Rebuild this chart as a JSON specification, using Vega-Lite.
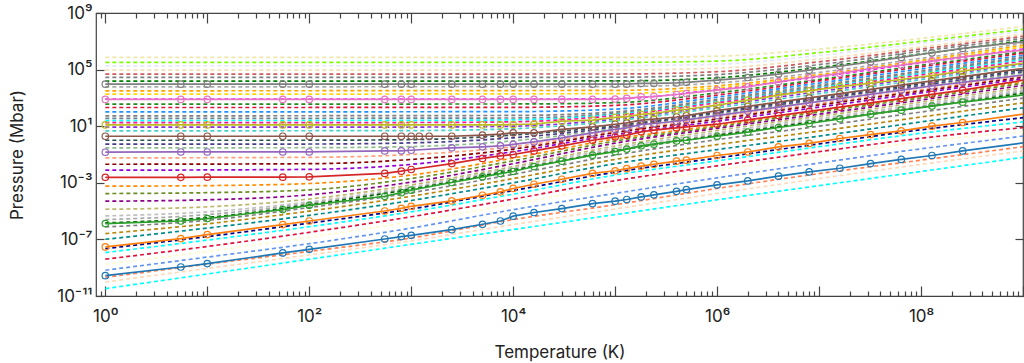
{
"$schema":"https://vega.github.io/schema/vega-lite/v6.json",
"width":927,"height":283,
"autosize":{"type":"none"},
"padding":{"left":96,"top":13,"right":1,"bottom":67},
"background":"white",
"config":{"view":{"stroke":"#444444","strokeWidth":1.2},
"axis":{"domain":false,"grid":false,"tickColor":"#444444","tickWidth":1.2,"labelFont":"Inter","titleFont":"Inter","labelFontSize":17,"titleFontSize":17,"titleFontWeight":"normal","labelColor":"#222222","titleColor":"#222222","labelFlush":false,"labelOverlap":false}},
"datasets":{
"dashed":[
{"s":"D1","T":1,"P":7.24e5},{"s":"D1","T":1e5,"P":7.24e5},{"s":"D1","T":1e6,"P":8.91e5},{"s":"D1","T":1e7,"P":2.82e6},{"s":"D1","T":1e8,"P":1.58e7},{"s":"D1","T":1e9,"P":1.12e8},
{"s":"D2","T":1,"P":3.24e5},{"s":"D2","T":1e5,"P":3.24e5},{"s":"D2","T":1e6,"P":3.98e5},{"s":"D2","T":1e7,"P":1.58e6},{"s":"D2","T":1e8,"P":1e7},{"s":"D2","T":1e9,"P":6.92e7},
{"s":"D3","T":1,"P":1.86e5},{"s":"D3","T":1e5,"P":1.91e5},{"s":"D3","T":1e6,"P":2.4e5},{"s":"D3","T":1e7,"P":1e6},{"s":"D3","T":1e8,"P":7.08e6},{"s":"D3","T":1e9,"P":5.01e7},
{"s":"D4","T":1,"P":9.12e4},{"s":"D4","T":1e5,"P":9.33e4},{"s":"D4","T":1e6,"P":1.26e5},{"s":"D4","T":1e7,"P":5.62e5},{"s":"D4","T":1e8,"P":3.98e6},{"s":"D4","T":1e9,"P":3.16e7},
{"s":"D5","T":1,"P":4.79e4},{"s":"D5","T":1e5,"P":4.9e4},{"s":"D5","T":1e6,"P":7.08e4},{"s":"D5","T":1e7,"P":3.55e5},{"s":"D5","T":1e8,"P":2.82e6},{"s":"D5","T":1e9,"P":2.24e7},
{"s":"D6","T":1,"P":2.82e4},{"s":"D6","T":1e5,"P":2.88e4},{"s":"D6","T":1e6,"P":4.47e4},{"s":"D6","T":1e7,"P":2.24e5},{"s":"D6","T":1e8,"P":2e6},{"s":"D6","T":1e9,"P":1.58e7},
{"s":"D7","T":1,"P":1.51e4},{"s":"D7","T":1e5,"P":1.58e4},{"s":"D7","T":1e6,"P":2.63e4},{"s":"D7","T":1e7,"P":1.41e5},{"s":"D7","T":1e8,"P":1.26e6},{"s":"D7","T":1e9,"P":1.12e7},
{"s":"D8","T":1,"P":6.03e3},{"s":"D8","T":1e5,"P":6.31e3},{"s":"D8","T":1e6,"P":1.12e4},{"s":"D8","T":1e7,"P":6.31e4},{"s":"D8","T":1e8,"P":6.31e5},{"s":"D8","T":1e9,"P":7.08e6},
{"s":"D9","T":1,"P":3.16e3},{"s":"D9","T":1e5,"P":3.39e3},{"s":"D9","T":1e6,"P":7.08e3},{"s":"D9","T":1e7,"P":4.47e4},{"s":"D9","T":1e8,"P":4.47e5},{"s":"D9","T":1e9,"P":5.25e6},
{"s":"D10","T":1,"P":1.82e3},{"s":"D10","T":1e5,"P":2e3},{"s":"D10","T":1e6,"P":5.01e3},{"s":"D10","T":1e7,"P":3.55e4},{"s":"D10","T":1e8,"P":3.55e5},{"s":"D10","T":1e9,"P":3.98e6},
{"s":"D11","T":1,"P":813},{"s":"D11","T":1e4,"P":813},{"s":"D11","T":1e5,"P":891},{"s":"D11","T":1e6,"P":3.8e3},{"s":"D11","T":1e7,"P":3.16e4},{"s":"D11","T":1e8,"P":3.02e5},{"s":"D11","T":1e9,"P":2.82e6},
{"s":"D12","T":1,"P":363},{"s":"D12","T":1e4,"P":372},{"s":"D12","T":1e5,"P":457},{"s":"D12","T":1e6,"P":2.24e3},{"s":"D12","T":1e7,"P":2e4},{"s":"D12","T":1e8,"P":2e5},{"s":"D12","T":1e9,"P":1.78e6},
{"s":"D13","T":1,"P":209},{"s":"D13","T":1e4,"P":214},{"s":"D13","T":1e5,"P":295},{"s":"D13","T":1e6,"P":1.58e3},{"s":"D13","T":1e7,"P":1.58e4},{"s":"D13","T":1e8,"P":1.58e5},{"s":"D13","T":1e9,"P":1.41e6},
{"s":"D14","T":1,"P":102},{"s":"D14","T":1e4,"P":107},{"s":"D14","T":1e5,"P":162},{"s":"D14","T":1e6,"P":1.12e3},{"s":"D14","T":1e7,"P":1.12e4},{"s":"D14","T":1e8,"P":1.12e5},{"s":"D14","T":1e9,"P":1e6},
{"s":"D15","T":1,"P":53.7},{"s":"D15","T":1e4,"P":57.5},{"s":"D15","T":1e5,"P":102},{"s":"D15","T":1e6,"P":794},{"s":"D15","T":1e7,"P":7.94e3},{"s":"D15","T":1e8,"P":7.94e4},{"s":"D15","T":1e9,"P":7.59e5},
{"s":"D16","T":1,"P":35.5},{"s":"D16","T":1e4,"P":38},{"s":"D16","T":1e5,"P":79.4},{"s":"D16","T":1e6,"P":631},{"s":"D16","T":1e7,"P":6.31e3},{"s":"D16","T":1e8,"P":6.31e4},{"s":"D16","T":1e9,"P":6.03e5},
{"s":"D17","T":1,"P":25.1},{"s":"D17","T":1e3,"P":25.7},{"s":"D17","T":1e4,"P":28.2},{"s":"D17","T":1e5,"P":66.1},{"s":"D17","T":1e6,"P":525},{"s":"D17","T":1e7,"P":5.25e3},{"s":"D17","T":1e8,"P":5.25e4},{"s":"D17","T":1e9,"P":5.01e5},
{"s":"D18","T":1,"P":17.8},{"s":"D18","T":1e3,"P":18.2},{"s":"D18","T":1e4,"P":20.4},{"s":"D18","T":1e5,"P":56.2},{"s":"D18","T":1e6,"P":447},{"s":"D18","T":1e7,"P":4.47e3},{"s":"D18","T":1e8,"P":4.17e4},{"s":"D18","T":1e9,"P":3.98e5},
{"s":"D19","T":1,"P":8.51},{"s":"D19","T":1e3,"P":8.71},{"s":"D19","T":1e4,"P":10},{"s":"D19","T":1e5,"P":31.6},{"s":"D19","T":1e6,"P":282},{"s":"D19","T":1e7,"P":2.82e3},{"s":"D19","T":1e8,"P":2.63e4},{"s":"D19","T":1e9,"P":2.51e5},
{"s":"D20","T":1,"P":4.68},{"s":"D20","T":1e3,"P":4.9},{"s":"D20","T":1e4,"P":6.61},{"s":"D20","T":1e5,"P":24},{"s":"D20","T":1e6,"P":200},{"s":"D20","T":1e7,"P":2e3},{"s":"D20","T":1e8,"P":1.91e4},{"s":"D20","T":1e9,"P":1.91e5},
{"s":"D21","T":1,"P":1.02},{"s":"D21","T":1e2,"P":1.02},{"s":"D21","T":1e3,"P":1.12},{"s":"D21","T":1e4,"P":2.4},{"s":"D21","T":1e5,"P":10.5},{"s":"D21","T":1e6,"P":100},{"s":"D21","T":1e7,"P":1e3},{"s":"D21","T":1e8,"P":1e4},{"s":"D21","T":1e9,"P":9.55e4},
{"s":"D22","T":1,"P":0.537},{"s":"D22","T":1e2,"P":0.55},{"s":"D22","T":1e3,"P":0.661},{"s":"D22","T":1e4,"P":1.51},{"s":"D22","T":1e5,"P":8.32},{"s":"D22","T":1e6,"P":79.4},{"s":"D22","T":1e7,"P":794},{"s":"D22","T":1e8,"P":7.59e3},{"s":"D22","T":1e9,"P":7.08e4},
{"s":"D23","T":1,"P":0.295},{"s":"D23","T":1e2,"P":0.302},{"s":"D23","T":1e3,"P":0.363},{"s":"D23","T":1e4,"P":0.933},{"s":"D23","T":1e5,"P":6.76},{"s":"D23","T":1e6,"P":66.1},{"s":"D23","T":1e7,"P":631},{"s":"D23","T":1e8,"P":6.03e3},{"s":"D23","T":1e9,"P":5.62e4},
{"s":"D24","T":1,"P":0.0575},{"s":"D24","T":1e2,"P":0.0631},{"s":"D24","T":1e3,"P":0.1},{"s":"D24","T":1e4,"P":0.355},{"s":"D24","T":1e5,"P":4.47},{"s":"D24","T":1e6,"P":41.7},{"s":"D24","T":1e7,"P":398},{"s":"D24","T":1e8,"P":3.8e3},{"s":"D24","T":1e9,"P":3.55e4},
{"s":"D25","T":1,"P":0.0204},{"s":"D25","T":1e2,"P":0.0224},{"s":"D25","T":1e3,"P":0.0447},{"s":"D25","T":1e4,"P":0.24},{"s":"D25","T":1e5,"P":3.55},{"s":"D25","T":1e6,"P":31.6},{"s":"D25","T":1e7,"P":316},{"s":"D25","T":1e8,"P":3.02e3},{"s":"D25","T":1e9,"P":2.82e4},
{"s":"D26","T":1,"P":7.76e-3},{"s":"D26","T":1e2,"P":8.91e-3},{"s":"D26","T":1e3,"P":0.02},{"s":"D26","T":1e4,"P":0.158},{"s":"D26","T":1e5,"P":2.51},{"s":"D26","T":1e6,"P":22.4},{"s":"D26","T":1e7,"P":224},{"s":"D26","T":1e8,"P":2.24e3},{"s":"D26","T":1e9,"P":2.24e4},
{"s":"D27","T":1,"P":5.75e-4},{"s":"D27","T":10,"P":6.31e-4},{"s":"D27","T":1e2,"P":8.91e-4},{"s":"D27","T":1e3,"P":3.55e-3},{"s":"D27","T":1e4,"P":0.0562},{"s":"D27","T":1e5,"P":1.26},{"s":"D27","T":1e6,"P":11.2},{"s":"D27","T":1e7,"P":126},{"s":"D27","T":1e8,"P":1.26e3},{"s":"D27","T":1e9,"P":1.32e4},
{"s":"D28","T":1,"P":1.74e-4},{"s":"D28","T":10,"P":2e-4},{"s":"D28","T":1e2,"P":3.16e-4},{"s":"D28","T":1e3,"P":2e-3},{"s":"D28","T":1e4,"P":0.0355},{"s":"D28","T":1e5,"P":0.891},{"s":"D28","T":1e6,"P":8.91},{"s":"D28","T":1e7,"P":100},{"s":"D28","T":1e8,"P":1e3},{"s":"D28","T":1e9,"P":1.05e4},
{"s":"D29","T":1,"P":5.01e-5},{"s":"D29","T":10,"P":6.31e-5},{"s":"D29","T":1e2,"P":1.41e-4},{"s":"D29","T":1e3,"P":1.12e-3},{"s":"D29","T":1e4,"P":0.0224},{"s":"D29","T":1e5,"P":0.631},{"s":"D29","T":1e6,"P":7.08},{"s":"D29","T":1e7,"P":70.8},{"s":"D29","T":1e8,"P":708},{"s":"D29","T":1e9,"P":7.59e3},
{"s":"D30","T":1,"P":1.35e-5},{"s":"D30","T":10,"P":2e-5},{"s":"D30","T":1e2,"P":7.08e-5},{"s":"D30","T":1e3,"P":7.08e-4},{"s":"D30","T":1e4,"P":0.0141},{"s":"D30","T":1e5,"P":0.398},{"s":"D30","T":1e6,"P":5.01},{"s":"D30","T":1e7,"P":50.1},{"s":"D30","T":1e8,"P":501},{"s":"D30","T":1e9,"P":5.25e3},
{"s":"D31","T":1,"P":4.57e-6},{"s":"D31","T":10,"P":8.91e-6},{"s":"D31","T":1e2,"P":4.47e-5},{"s":"D31","T":1e3,"P":5.01e-4},{"s":"D31","T":1e4,"P":0.0112},{"s":"D31","T":1e5,"P":0.282},{"s":"D31","T":1e6,"P":3.55},{"s":"D31","T":1e7,"P":35.5},{"s":"D31","T":1e8,"P":355},{"s":"D31","T":1e9,"P":3.72e3},
{"s":"D32","T":1,"P":2.51e-6},{"s":"D32","T":10,"P":5.62e-6},{"s":"D32","T":1e2,"P":3.55e-5},{"s":"D32","T":1e3,"P":3.98e-4},{"s":"D32","T":1e4,"P":8.91e-3},{"s":"D32","T":1e5,"P":0.2},{"s":"D32","T":1e6,"P":2.63},{"s":"D32","T":1e7,"P":26.3},{"s":"D32","T":1e8,"P":263},{"s":"D32","T":1e9,"P":2.82e3},
{"s":"D33","T":1,"P":1.45e-6},{"s":"D33","T":10,"P":3.55e-6},{"s":"D33","T":1e2,"P":2.82e-5},{"s":"D33","T":1e3,"P":3.55e-4},{"s":"D33","T":1e4,"P":7.94e-3},{"s":"D33","T":1e5,"P":0.178},{"s":"D33","T":1e6,"P":2.24},{"s":"D33","T":1e7,"P":22.4},{"s":"D33","T":1e8,"P":209},{"s":"D33","T":1e9,"P":2.14e3},
{"s":"D34","T":1,"P":7.59e-7},{"s":"D34","T":10,"P":2.24e-6},{"s":"D34","T":1e2,"P":1.78e-5},{"s":"D34","T":1e3,"P":2e-4},{"s":"D34","T":1e4,"P":3.98e-3},{"s":"D34","T":1e5,"P":0.0891},{"s":"D34","T":1e6,"P":1.12},{"s":"D34","T":1e7,"P":10},{"s":"D34","T":1e8,"P":100},{"s":"D34","T":1e9,"P":955},
{"s":"D35","T":1,"P":2.57e-7},{"s":"D35","T":10,"P":1.26e-6},{"s":"D35","T":1e2,"P":1e-5},{"s":"D35","T":1e3,"P":1.12e-4},{"s":"D35","T":1e4,"P":2e-3},{"s":"D35","T":1e5,"P":0.0447},{"s":"D35","T":1e6,"P":0.501},{"s":"D35","T":1e7,"P":4.47},{"s":"D35","T":1e8,"P":44.7},{"s":"D35","T":1e9,"P":447},
{"s":"D36","T":1,"P":1.02e-7},{"s":"D36","T":10,"P":6.31e-7},{"s":"D36","T":1e2,"P":5.01e-6},{"s":"D36","T":1e3,"P":5.62e-5},{"s":"D36","T":1e4,"P":1e-3},{"s":"D36","T":1e5,"P":0.0224},{"s":"D36","T":1e6,"P":0.224},{"s":"D36","T":1e7,"P":2},{"s":"D36","T":1e8,"P":20},{"s":"D36","T":1e9,"P":200},
{"s":"D37","T":1,"P":2.24e-8},{"s":"D37","T":10,"P":1.58e-7},{"s":"D37","T":1e2,"P":1.41e-6},{"s":"D37","T":1e3,"P":1.41e-5},{"s":"D37","T":1e4,"P":2.82e-4},{"s":"D37","T":1e5,"P":5.62e-3},{"s":"D37","T":1e6,"P":0.0562},{"s":"D37","T":1e7,"P":0.562},{"s":"D37","T":1e8,"P":5.62},{"s":"D37","T":1e9,"P":39.8},
{"s":"D38","T":1,"P":1.17e-8},{"s":"D38","T":10,"P":8.91e-8},{"s":"D38","T":1e2,"P":7.94e-7},{"s":"D38","T":1e3,"P":8.91e-6},{"s":"D38","T":1e4,"P":1.58e-4},{"s":"D38","T":1e5,"P":3.55e-3},{"s":"D38","T":1e6,"P":0.0355},{"s":"D38","T":1e7,"P":0.355},{"s":"D38","T":1e8,"P":3.16},{"s":"D38","T":1e9,"P":20},
{"s":"D39","T":1,"P":3.98e-9},{"s":"D39","T":10,"P":3.16e-8},{"s":"D39","T":1e2,"P":3.16e-7},{"s":"D39","T":1e3,"P":3.98e-6},{"s":"D39","T":1e4,"P":7.08e-5},{"s":"D39","T":1e5,"P":1.41e-3},{"s":"D39","T":1e6,"P":0.0158},{"s":"D39","T":1e7,"P":0.158},{"s":"D39","T":1e8,"P":1.41},{"s":"D39","T":1e9,"P":7.94},
{"s":"D40","T":1,"P":1.74e-9},{"s":"D40","T":10,"P":1.41e-8},{"s":"D40","T":1e2,"P":1.41e-7},{"s":"D40","T":1e3,"P":1.78e-6},{"s":"D40","T":1e4,"P":3.16e-5},{"s":"D40","T":1e5,"P":6.31e-4},{"s":"D40","T":1e6,"P":7.94e-3},{"s":"D40","T":1e7,"P":0.0794},{"s":"D40","T":1e8,"P":0.794},{"s":"D40","T":1e9,"P":3.98},
{"s":"D41","T":1,"P":6.61e-10},{"s":"D41","T":10,"P":5.62e-9},{"s":"D41","T":1e2,"P":5.01e-8},{"s":"D41","T":1e3,"P":6.31e-7},{"s":"D41","T":1e4,"P":1.26e-5},{"s":"D41","T":1e5,"P":1.78e-4},{"s":"D41","T":1e6,"P":2.24e-3},{"s":"D41","T":1e7,"P":0.0251},{"s":"D41","T":1e8,"P":0.251},{"s":"D41","T":1e9,"P":2},
{"s":"D42","T":1,"P":2.09e-10},{"s":"D42","T":10,"P":1.78e-9},{"s":"D42","T":1e2,"P":1.41e-8},{"s":"D42","T":1e3,"P":1.26e-7},{"s":"D42","T":1e4,"P":2.51e-6},{"s":"D42","T":1e5,"P":2.82e-5},{"s":"D42","T":1e6,"P":3.98e-4},{"s":"D42","T":1e7,"P":4.47e-3},{"s":"D42","T":1e8,"P":0.0398},{"s":"D42","T":1e9,"P":0.355},
{"s":"D43","T":1,"P":9.77e-11},{"s":"D43","T":10,"P":8.91e-10},{"s":"D43","T":1e2,"P":7.94e-9},{"s":"D43","T":1e3,"P":7.94e-8},{"s":"D43","T":1e4,"P":1.12e-6},{"s":"D43","T":1e5,"P":1.41e-5},{"s":"D43","T":1e6,"P":1.78e-4},{"s":"D43","T":1e7,"P":2e-3},{"s":"D43","T":1e8,"P":0.02},{"s":"D43","T":1e9,"P":0.178},
{"s":"D44","T":1,"P":3.31e-11},{"s":"D44","T":10,"P":3.55e-10},{"s":"D44","T":1e2,"P":3.98e-9},{"s":"D44","T":1e3,"P":4.47e-8},{"s":"D44","T":1e4,"P":5.01e-7},{"s":"D44","T":1e5,"P":5.62e-6},{"s":"D44","T":1e6,"P":6.31e-5},{"s":"D44","T":1e7,"P":6.31e-4},{"s":"D44","T":1e8,"P":6.31e-3},{"s":"D44","T":1e9,"P":0.0631}
],
"solid":[
{"s":"S1","T":1,"P":2.75e-10,"m":1},{"s":"S1","T":5.5,"P":1.12e-9,"m":1},{"s":"S1","T":10,"P":1.95e-9,"m":1},{"s":"S1","T":55,"P":1.1e-8,"m":1},{"s":"S1","T":100,"P":2e-8,"m":1},{"s":"S1","T":550,"P":1.07e-7,"m":1},{"s":"S1","T":800,"P":1.58e-7,"m":1},{"s":"S1","T":1000,"P":1.95e-7,"m":1},{"s":"S1","T":2500,"P":4.9e-7,"m":1},{"s":"S1","T":5000,"P":1.17e-6,"m":1},{"s":"S1","T":7500,"P":2e-6,"m":1},{"s":"S1","T":1e4,"P":4.37e-6,"m":1},{"s":"S1","T":1.6e4,"P":7.94e-6,"m":1},{"s":"S1","T":3e4,"P":1.51e-5,"m":1},{"s":"S1","T":6e4,"P":3.39e-5,"m":1},{"s":"S1","T":1e5,"P":5.01e-5,"m":1},{"s":"S1","T":1.3e5,"P":6.61e-5,"m":1},{"s":"S1","T":1.8e5,"P":1e-4,"m":1},{"s":"S1","T":2.4e5,"P":1.41e-4,"m":1},{"s":"S1","T":4e5,"P":2.51e-4,"m":1},{"s":"S1","T":5e5,"P":3.31e-4,"m":1},{"s":"S1","T":1e6,"P":7.08e-4,"m":1},{"s":"S1","T":2e6,"P":1.35e-3,"m":1},{"s":"S1","T":4e6,"P":2.95e-3,"m":1},{"s":"S1","T":8e6,"P":5.89e-3,"m":1},{"s":"S1","T":1.6e7,"P":1.07e-2,"m":1},{"s":"S1","T":3.2e7,"P":2.29e-2,"m":1},{"s":"S1","T":6.4e7,"P":4.47e-2,"m":1},{"s":"S1","T":1.28e8,"P":8.51e-2,"m":1},{"s":"S1","T":2.56e8,"P":0.178,"m":1},{"s":"S1","T":1e9,"P":0.661,"m":0},
{"s":"S2","T":1,"P":2.95e-8,"m":1},{"s":"S2","T":5.5,"P":1.15e-7,"m":1},{"s":"S2","T":10,"P":2.19e-7,"m":1},{"s":"S2","T":55,"P":1.12e-6,"m":1},{"s":"S2","T":100,"P":2e-6,"m":1},{"s":"S2","T":550,"P":1.02e-5,"m":1},{"s":"S2","T":800,"P":1.58e-5,"m":1},{"s":"S2","T":1000,"P":2.19e-5,"m":1},{"s":"S2","T":2500,"P":5.25e-5,"m":1},{"s":"S2","T":5000,"P":1.32e-4,"m":1},{"s":"S2","T":7500,"P":2.29e-4,"m":1},{"s":"S2","T":1e4,"P":3.98e-4,"m":1},{"s":"S2","T":1.6e4,"P":7.94e-4,"m":1},{"s":"S2","T":3e4,"P":1.78e-3,"m":1},{"s":"S2","T":6e4,"P":4.57e-3,"m":1},{"s":"S2","T":1e5,"P":7.08e-3,"m":1},{"s":"S2","T":1.3e5,"P":1e-2,"m":1},{"s":"S2","T":1.8e5,"P":1.51e-2,"m":1},{"s":"S2","T":2.4e5,"P":2.04e-2,"m":1},{"s":"S2","T":4e5,"P":3.39e-2,"m":1},{"s":"S2","T":5e5,"P":3.98e-2,"m":1},{"s":"S2","T":1e6,"P":8.51e-2,"m":1},{"s":"S2","T":2e6,"P":0.151,"m":1},{"s":"S2","T":4e6,"P":0.347,"m":1},{"s":"S2","T":8e6,"P":0.603,"m":1},{"s":"S2","T":1.6e7,"P":1.35,"m":1},{"s":"S2","T":3.2e7,"P":2.57,"m":1},{"s":"S2","T":6.4e7,"P":4.68,"m":1},{"s":"S2","T":1.28e8,"P":10,"m":1},{"s":"S2","T":2.56e8,"P":18.2,"m":1},{"s":"S2","T":1e9,"P":70.8,"m":0},
{"s":"S3","T":1,"P":1.32e-6,"m":1},{"s":"S3","T":5.5,"P":2e-6,"m":1},{"s":"S3","T":10,"P":2.95e-6,"m":1},{"s":"S3","T":55,"P":1.29e-5,"m":1},{"s":"S3","T":100,"P":2.57e-5,"m":1},{"s":"S3","T":550,"P":1.12e-4,"m":1},{"s":"S3","T":800,"P":2e-4,"m":1},{"s":"S3","T":1000,"P":3.02e-4,"m":1},{"s":"S3","T":2500,"P":1.05e-3,"m":1},{"s":"S3","T":5000,"P":2.63e-3,"m":1},{"s":"S3","T":7500,"P":4.47e-3,"m":1},{"s":"S3","T":1e4,"P":6.31e-3,"m":1},{"s":"S3","T":1.6e4,"P":1.41e-2,"m":1},{"s":"S3","T":3e4,"P":3.39e-2,"m":1},{"s":"S3","T":6e4,"P":8.91e-2,"m":1},{"s":"S3","T":1e5,"P":0.158,"m":1},{"s":"S3","T":1.3e5,"P":0.24,"m":1},{"s":"S3","T":1.8e5,"P":0.407,"m":1},{"s":"S3","T":2.4e5,"P":0.537,"m":1},{"s":"S3","T":4e5,"P":0.912,"m":1},{"s":"S3","T":5e5,"P":1.02,"m":1},{"s":"S3","T":1e6,"P":1.95,"m":1},{"s":"S3","T":2e6,"P":3.8,"m":1},{"s":"S3","T":4e6,"P":8.13,"m":1},{"s":"S3","T":8e6,"P":15.5,"m":1},{"s":"S3","T":1.6e7,"P":33.1,"m":1},{"s":"S3","T":3.2e7,"P":70.8,"m":1},{"s":"S3","T":6.4e7,"P":135,"m":1},{"s":"S3","T":1.28e8,"P":263,"m":1},{"s":"S3","T":2.56e8,"P":501,"m":1},{"s":"S3","T":1e9,"P":1620,"m":0},
{"s":"S4","T":1,"P":2.45e-3,"m":1},{"s":"S4","T":5.5,"P":2.45e-3,"m":1},{"s":"S4","T":10,"P":2.51e-3,"m":1},{"s":"S4","T":55,"P":2.51e-3,"m":1},{"s":"S4","T":100,"P":2.63e-3,"m":1},{"s":"S4","T":550,"P":4.57e-3,"m":1},{"s":"S4","T":800,"P":6.61e-3,"m":1},{"s":"S4","T":1000,"P":8.71e-3,"m":1},{"s":"S4","T":2500,"P":2.29e-2,"m":1},{"s":"S4","T":5000,"P":5.25e-2,"m":1},{"s":"S4","T":7500,"P":7.94e-2,"m":1},{"s":"S4","T":1e4,"P":0.1,"m":1},{"s":"S4","T":1.6e4,"P":0.178,"m":1},{"s":"S4","T":3e4,"P":0.407,"m":1},{"s":"S4","T":6e4,"P":1.02,"m":1},{"s":"S4","T":1e5,"P":1.74,"m":1},{"s":"S4","T":1.3e5,"P":2.34,"m":1},{"s":"S4","T":1.8e5,"P":3.98,"m":1},{"s":"S4","T":2.4e5,"P":5.25,"m":1},{"s":"S4","T":4e5,"P":7.59,"m":1},{"s":"S4","T":5e5,"P":8.91,"m":1},{"s":"S4","T":1e6,"P":13.8,"m":1},{"s":"S4","T":2e6,"P":28.2,"m":1},{"s":"S4","T":4e6,"P":56.2,"m":1},{"s":"S4","T":8e6,"P":112,"m":1},{"s":"S4","T":1.6e7,"P":224,"m":1},{"s":"S4","T":3.2e7,"P":447,"m":1},{"s":"S4","T":6.4e7,"P":891,"m":1},{"s":"S4","T":1.28e8,"P":1780,"m":1},{"s":"S4","T":2.56e8,"P":3550,"m":1},{"s":"S4","T":1e9,"P":17800,"m":0},
{"s":"S5","T":1,"P":0.145,"m":1},{"s":"S5","T":5.5,"P":0.151,"m":1},{"s":"S5","T":10,"P":0.151,"m":1},{"s":"S5","T":55,"P":0.151,"m":1},{"s":"S5","T":100,"P":0.151,"m":1},{"s":"S5","T":550,"P":0.178,"m":1},{"s":"S5","T":800,"P":0.182,"m":1},{"s":"S5","T":1000,"P":0.2,"m":1},{"s":"S5","T":2500,"P":0.295,"m":1},{"s":"S5","T":5000,"P":0.347,"m":1},{"s":"S5","T":7500,"P":0.407,"m":1},{"s":"S5","T":1e4,"P":0.513,"m":1},{"s":"S5","T":1.6e4,"P":0.776,"m":1},{"s":"S5","T":3e4,"P":1.48,"m":1},{"s":"S5","T":6e4,"P":3.39,"m":1},{"s":"S5","T":1e5,"P":5.89,"m":1},{"s":"S5","T":1.3e5,"P":7.59,"m":1},{"s":"S5","T":1.8e5,"P":13.2,"m":1},{"s":"S5","T":2.4e5,"P":15.5,"m":1},{"s":"S5","T":4e5,"P":22.4,"m":1},{"s":"S5","T":5e5,"P":28.2,"m":1},{"s":"S5","T":1e6,"P":56.2,"m":1},{"s":"S5","T":2e6,"P":112,"m":1},{"s":"S5","T":4e6,"P":224,"m":1},{"s":"S5","T":8e6,"P":447,"m":1},{"s":"S5","T":1.6e7,"P":891,"m":1},{"s":"S5","T":3.2e7,"P":1780,"m":1},{"s":"S5","T":6.4e7,"P":3550,"m":1},{"s":"S5","T":1.28e8,"P":7080,"m":1},{"s":"S5","T":2.56e8,"P":12600,"m":1},{"s":"S5","T":1e9,"P":40700,"m":0},
{"s":"S6","T":1,"P":1.95,"m":1},{"s":"S6","T":5.5,"P":1.95,"m":1},{"s":"S6","T":10,"P":1.95,"m":1},{"s":"S6","T":55,"P":1.95,"m":1},{"s":"S6","T":100,"P":1.95,"m":1},{"s":"S6","T":550,"P":1.95,"m":1},{"s":"S6","T":800,"P":1.95,"m":1},{"s":"S6","T":1000,"P":1.95,"m":1},{"s":"S6","T":1200,"P":1.95,"m":1},{"s":"S6","T":1500,"P":1.95,"m":1},{"s":"S6","T":2500,"P":1.95,"m":1},{"s":"S6","T":5000,"P":2.34,"m":1},{"s":"S6","T":7500,"P":2.75,"m":1},{"s":"S6","T":1e4,"P":3.39,"m":1},{"s":"S6","T":1.6e4,"P":3.39,"m":1},{"s":"S6","T":3e4,"P":5.89,"m":1},{"s":"S6","T":6e4,"P":8.91,"m":1},{"s":"S6","T":1e5,"P":13.8,"m":1},{"s":"S6","T":1.3e5,"P":17,"m":1},{"s":"S6","T":1.8e5,"P":26.9,"m":1},{"s":"S6","T":2.4e5,"P":31.6,"m":1},{"s":"S6","T":4e5,"P":44.7,"m":1},{"s":"S6","T":5e5,"P":56.2,"m":1},{"s":"S6","T":1e6,"P":126,"m":1},{"s":"S6","T":2e6,"P":251,"m":1},{"s":"S6","T":4e6,"P":501,"m":1},{"s":"S6","T":8e6,"P":1000,"m":1},{"s":"S6","T":1.6e7,"P":2000,"m":1},{"s":"S6","T":3.2e7,"P":3980,"m":1},{"s":"S6","T":6.4e7,"P":7940,"m":1},{"s":"S6","T":1.28e8,"P":15800,"m":1},{"s":"S6","T":2.56e8,"P":31600,"m":1},{"s":"S6","T":1e9,"P":120000,"m":0},
{"s":"S7","T":1,"P":776,"m":1},{"s":"S7","T":5.5,"P":776,"m":1},{"s":"S7","T":10,"P":776,"m":1},{"s":"S7","T":55,"P":776,"m":1},{"s":"S7","T":100,"P":776,"m":1},{"s":"S7","T":550,"P":776,"m":1},{"s":"S7","T":800,"P":776,"m":1},{"s":"S7","T":1000,"P":776,"m":1},{"s":"S7","T":2500,"P":776,"m":1},{"s":"S7","T":5000,"P":776,"m":1},{"s":"S7","T":7500,"P":776,"m":1},{"s":"S7","T":1e4,"P":776,"m":1},{"s":"S7","T":1.6e4,"P":776,"m":1},{"s":"S7","T":3e4,"P":776,"m":1},{"s":"S7","T":6e4,"P":776,"m":1},{"s":"S7","T":1e5,"P":832,"m":1},{"s":"S7","T":1.3e5,"P":933,"m":1},{"s":"S7","T":1.8e5,"P":1170,"m":1},{"s":"S7","T":2.4e5,"P":1260,"m":1},{"s":"S7","T":4e5,"P":1740,"m":1},{"s":"S7","T":5e5,"P":2040,"m":1},{"s":"S7","T":1e6,"P":3550,"m":1},{"s":"S7","T":2e6,"P":6030,"m":1},{"s":"S7","T":4e6,"P":13500,"m":1},{"s":"S7","T":8e6,"P":27500,"m":1},{"s":"S7","T":1.6e7,"P":53700,"m":1},{"s":"S7","T":3.2e7,"P":120000,"m":1},{"s":"S7","T":6.4e7,"P":209000,"m":1},{"s":"S7","T":1.28e8,"P":417000,"m":1},{"s":"S7","T":2.56e8,"P":794000,"m":1},{"s":"S7","T":1e9,"P":2400000,"m":0},
{"s":"S8","T":1,"P":9330,"m":1},{"s":"S8","T":5.5,"P":9330,"m":1},{"s":"S8","T":10,"P":9330,"m":1},{"s":"S8","T":55,"P":9330,"m":1},{"s":"S8","T":100,"P":9330,"m":1},{"s":"S8","T":550,"P":9330,"m":1},{"s":"S8","T":800,"P":9330,"m":1},{"s":"S8","T":1000,"P":9330,"m":1},{"s":"S8","T":2500,"P":9330,"m":1},{"s":"S8","T":5000,"P":9330,"m":1},{"s":"S8","T":7500,"P":9330,"m":1},{"s":"S8","T":1e4,"P":9330,"m":1},{"s":"S8","T":1.6e4,"P":9330,"m":1},{"s":"S8","T":3e4,"P":9330,"m":1},{"s":"S8","T":6e4,"P":9330,"m":1},{"s":"S8","T":1e5,"P":9330,"m":1},{"s":"S8","T":1.3e5,"P":9330,"m":1},{"s":"S8","T":1.8e5,"P":10500,"m":1},{"s":"S8","T":2.4e5,"P":10500,"m":1},{"s":"S8","T":4e5,"P":11500,"m":1},{"s":"S8","T":5e5,"P":12600,"m":1},{"s":"S8","T":1e6,"P":17800,"m":1},{"s":"S8","T":2e6,"P":27500,"m":1},{"s":"S8","T":4e6,"P":47900,"m":1},{"s":"S8","T":8e6,"P":91200,"m":1},{"s":"S8","T":1.6e7,"P":178000,"m":1},{"s":"S8","T":3.2e7,"P":355000,"m":1},{"s":"S8","T":6.4e7,"P":724000,"m":1},{"s":"S8","T":1.28e8,"P":1550000,"m":1},{"s":"S8","T":2.56e8,"P":3160000,"m":1},{"s":"S8","T":1e9,"P":9120000,"m":0},
{"s":"S9","T":1,"P":12.3,"m":1},{"s":"S9","T":5.5,"P":12.3,"m":1},{"s":"S9","T":10,"P":12.3,"m":1},{"s":"S9","T":55,"P":12.3,"m":1},{"s":"S9","T":100,"P":12.3,"m":1},{"s":"S9","T":550,"P":12.3,"m":1},{"s":"S9","T":800,"P":12.3,"m":1},{"s":"S9","T":1000,"P":12.3,"m":1},{"s":"S9","T":2500,"P":12.3,"m":1},{"s":"S9","T":5000,"P":12.3,"m":1},{"s":"S9","T":7500,"P":12.3,"m":1},{"s":"S9","T":1e4,"P":13.2,"m":1},{"s":"S9","T":1.6e4,"P":14.1,"m":1},{"s":"S9","T":3e4,"P":22.4,"m":1},{"s":"S9","T":6e4,"P":26.9,"m":1},{"s":"S9","T":1e5,"P":41.7,"m":1},{"s":"S9","T":1.3e5,"P":47.9,"m":1},{"s":"S9","T":1.8e5,"P":67.6,"m":1},{"s":"S9","T":2.4e5,"P":79.4,"m":1},{"s":"S9","T":4e5,"P":135,"m":1},{"s":"S9","T":5e5,"P":158,"m":1},{"s":"S9","T":1e6,"P":309,"m":1},{"s":"S9","T":2e6,"P":692,"m":1},{"s":"S9","T":4e6,"P":1550,"m":1},{"s":"S9","T":8e6,"P":3160,"m":1},{"s":"S9","T":1.6e7,"P":6310,"m":1},{"s":"S9","T":3.2e7,"P":11200,"m":1},{"s":"S9","T":6.4e7,"P":20000,"m":1},{"s":"S9","T":1.28e8,"P":38000,"m":1},{"s":"S9","T":2.56e8,"P":77600,"m":1},{"s":"S9","T":1e9,"P":282000,"m":0}
],
"none":[]
},
"resolve":{"axis":{"x":"independent","y":"independent"}},
"layer":[
{"data":{"name":"dashed"},
"mark":{"type":"line","strokeDash":[4,3],"strokeWidth":1.7,"interpolate":"monotone","clip":true},
"encoding":{
"x":{"field":"T","type":"quantitative","scale":{"type":"log","domain":[0.81,1e9],"nice":false},
"axis":{"orient":"bottom","values":[1,10,100,1000,1e4,1e5,1e6,1e7,1e8,1e9],"tickSize":-10,"labelPadding":22,"labelExpr":"round(log(datum.value)/LN10) == 0 ? '10⁰' : round(log(datum.value)/LN10) == 2 ? '10²' : round(log(datum.value)/LN10) == 4 ? '10⁴' : round(log(datum.value)/LN10) == 6 ? '10⁶' : round(log(datum.value)/LN10) == 8 ? '10⁸' : ''","title":"Temperature (K)","titlePadding":20}},
"y":{"field":"P","type":"quantitative","scale":{"type":"log","domain":[1e-11,1e9],"nice":false},
"axis":{"orient":"left","values":[1e-11,1e-7,1e-3,10,1e5,1e9],"tickSize":-8,"labelPadding":12,"labelExpr":"round(log(datum.value)/LN10) == -11 ? '10⁻¹¹' : round(log(datum.value)/LN10) == -7 ? '10⁻⁷' : round(log(datum.value)/LN10) == -3 ? '10⁻³' : round(log(datum.value)/LN10) == 1 ? '10¹' : round(log(datum.value)/LN10) == 5 ? '10⁵' : '10⁹'","title":"Pressure (Mbar)","titlePadding":30}},
"color":{"field":"s","type":"nominal","legend":null,
"scale":{"domain":["D1","D2","D3","D4","D5","D6","D7","D8","D9","D10","D11","D12","D13","D14","D15","D16","D17","D18","D19","D20","D21","D22","D23","D24","D25","D26","D27","D28","D29","D30","D31","D32","D33","D34","D35","D36","D37","D38","D39","D40","D41","D42","D43","D44","S1","S2","S3","S4","S5","S6","S7","S8","S9"],
"range":["#eee8aa","#7cfc00","#e6e6fa","#f5deb3","#cd5c5c","#808080","#008000","#a9a9a9","#ffa500","#ffd700","#ff00ff","#228b22","#dc143c","#1e90ff","#808080","#708090","#00ffff","#ff1493","#8a2be2","#48d1cc","#2f4f4f","#483d8b","#8fbc8f","#ffa07a","#8b0000","#9400d3","#ff8c00","#6b8e23","#8b008b","#bdb76b","#c0c0c0","#a9a9a9","#006400","#808080","#b8860b","#008b8b","#00008b","#00ffff","#dc143c","#fffacd","#6495ed","#ff7f50","#ffdab9","#00ffff","#1f77b4","#ff7f0e","#2ca02c","#d62728","#9467bd","#8c564b","#e377c2","#7f7f7f","#bcbd22"]}}}},
{"data":{"name":"solid"},
"mark":{"type":"line","strokeWidth":1.7,"clip":true},
"encoding":{
"x":{"field":"T","type":"quantitative","axis":{"orient":"bottom","values":[0.9,2,3,4,5,6,7,8,9,20,30,40,50,60,70,80,90,200,300,400,500,600,700,800,900,2000,3000,4000,5000,6000,7000,8000,9000,2e4,3e4,4e4,5e4,6e4,7e4,8e4,9e4,2e5,3e5,4e5,5e5,6e5,7e5,8e5,9e5,2e6,3e6,4e6,5e6,6e6,7e6,8e6,9e6,2e7,3e7,4e7,5e7,6e7,7e7,8e7,9e7,2e8,3e8,4e8,5e8,6e8,7e8,8e8,9e8],"tickSize":-5,"labels":false,"title":null}},
"y":{"field":"P","type":"quantitative","axis":{"orient":"right","values":[1e-11,1e-7,1e-3,10,1e5,1e9],"tickSize":-8,"labels":false,"title":null}},
"color":{"field":"s","type":"nominal","legend":null}}},
{"data":{"name":"solid"},
"transform":[{"filter":"datum.m == 1"}],
"mark":{"type":"point","shape":"circle","filled":false,"size":42,"strokeWidth":1.2,"opacity":1},
"encoding":{
"x":{"field":"T","type":"quantitative","axis":{"orient":"top","values":[1,10,100,1000,1e4,1e5,1e6,1e7,1e8,1e9],"tickSize":-10,"labels":false,"title":null}},
"y":{"field":"P","type":"quantitative","axis":null},
"color":{"field":"s","type":"nominal","legend":null}}},
{"data":{"name":"none"},
"mark":{"type":"point"},
"encoding":{
"x":{"field":"T","type":"quantitative","axis":{"orient":"top","values":[0.9,2,3,4,5,6,7,8,9,20,30,40,50,60,70,80,90,200,300,400,500,600,700,800,900,2000,3000,4000,5000,6000,7000,8000,9000,2e4,3e4,4e4,5e4,6e4,7e4,8e4,9e4,2e5,3e5,4e5,5e5,6e5,7e5,8e5,9e5,2e6,3e6,4e6,5e6,6e6,7e6,8e6,9e6,2e7,3e7,4e7,5e7,6e7,7e7,8e7,9e7,2e8,3e8,4e8,5e8,6e8,7e8,8e8,9e8],"tickSize":-5,"labels":false,"title":null}},
"y":{"field":"P","type":"quantitative","axis":null}}}
]
}
